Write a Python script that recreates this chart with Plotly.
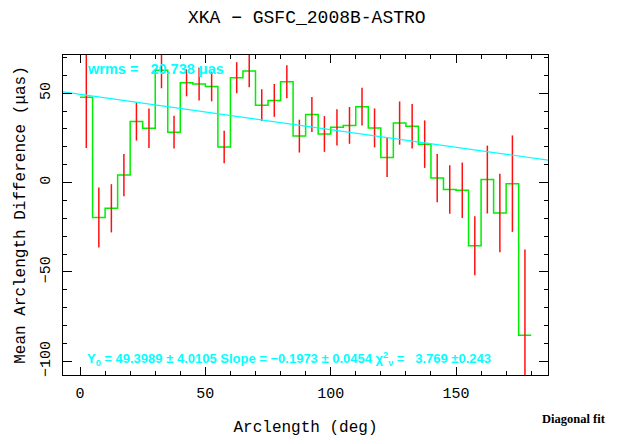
import numpy as np
import plotly.graph_objects as go

# ---- data ----
bin_centers = [2.5, 7.5, 12.5, 17.5, 22.5, 27.5, 32.5, 37.5, 42.5, 47.5, 52.5, 57.5,
               62.5, 67.5, 72.5, 77.5, 82.5, 87.5, 92.5, 97.5, 102.5, 107.5, 112.5, 117.5,
               122.5, 127.5, 132.5, 137.5, 142.5, 147.5, 152.5, 157.5, 162.5, 167.5, 172.5, 177.5]
mean_diff = [47.7, -19.5, -14.4, 4.2, 34.2, 30.4, 62.8, 28.2, 55.8, 55.2, 53.8, 19.9,
             58.7, 62.4, 43.3, 46.0, 56.4, 26.0, 38.1, 27.2, 30.9, 32.0, 42.5, 30.6,
             14.0, 33.3, 31.5, 21.5, 2.5, -3.9, -4.3, -35.4, 1.7, -17.0, -0.6, -85.5]
errors = [28.4, 16.8, 13.5, 11.8, 10.7, 11.0, 10.0, 9.2, 7.5, 9.2, 8.3, 9.1,
          8.7, 9.0, 8.9, 9.2, 9.2, 9.2, 9.8, 10.0, 10.1, 10.3, 10.6, 10.9,
          10.9, 12.1, 12.5, 13.3, 13.5, 13.6, 15.5, 16.5, 19.0, 22.0, 27.0, 48.0]
bin_width = 5.0
fit_y0 = 49.3989
fit_slope = -0.1973
x_range = [-6.8, 186.7]
y_range = [-107.7, 71.4]
x_tick_vals = [0, 50, 100, 150]
y_tick_vals = [-100, -50, 0, 50]

# step line edges
centers = np.array(bin_centers)
edges = list(centers - bin_width / 2) + [centers[-1] + bin_width / 2]
step_y = list(mean_diff) + [mean_diff[-1]]

fit_x = np.array(x_range)
fit_line = fit_y0 + fit_slope * fit_x

fig = go.Figure()
fig.add_trace(go.Scatter(x=edges, y=step_y, mode="lines",
                         line=dict(shape="hv", color="#00ee00", width=1.5),
                         hoverinfo="skip", showlegend=False))
fig.add_trace(go.Scatter(x=bin_centers, y=mean_diff, mode="markers",
                         marker=dict(size=0.1, color="rgba(0,0,0,0)"),
                         error_y=dict(type="data", array=errors, visible=True,
                                      color="#ff1010", thickness=1.5, width=0),
                         showlegend=False))
fig.add_trace(go.Scatter(x=list(fit_x), y=list(fit_line), mode="lines",
                         line=dict(color="#00ffff", width=1.2),
                         showlegend=False))

axis_font = dict(family="Liberation Mono", size=15, color="black")
common = dict(showgrid=False, zeroline=False, showline=True, linecolor="black",
              linewidth=1, mirror="allticks", ticks="inside", tickcolor="black",
              tickfont=axis_font)

fig.update_xaxes(range=x_range, tickvals=x_tick_vals, ticklen=8, tickwidth=1,
                 minor=dict(dtick=10, tick0=0, ticklen=4, ticks="inside", tickcolor="black"),
                 title=dict(text="Arclength (deg)",
                            font=dict(family="Liberation Mono", size=16, color="black"),
                            standoff=18),
                 ticklabelstandoff=4,
                 **common)
fig.update_yaxes(range=y_range, tickvals=y_tick_vals, ticklen=9, tickwidth=1,
                 tickangle=-90,
                 minor=dict(dtick=10, tick0=0, ticklen=4, ticks="inside", tickcolor="black"),
                 title=dict(text="Mean Arclength Difference (μas)",
                            font=dict(family="Liberation Mono", size=16, color="black"),
                            standoff=8),
                 ticklabelstandoff=6,
                 **common)

fig.update_layout(
    width=621, height=444,
    margin=dict(l=63, r=73, t=55, b=65),
    paper_bgcolor="white", plot_bgcolor="white",
    title=dict(text="XKA − GSFC_2008B-ASTRO", x=0.494, xanchor="center",
               y=1 - 17 / 444, yanchor="middle",
               font=dict(family="Liberation Mono", size=18, color="black")),
    annotations=[
        dict(text="<b>wrms =   20.738 μas</b>", x=1.8, y=63.5, xref="x", yref="y",
             xanchor="left", yanchor="middle", showarrow=False,
             font=dict(family="Liberation Sans", size=14.5, color="#00ffff")),
        dict(text="<b>Y<sub>0</sub> = 49.3989 ± 4.0105 Slope = −0.1973 ± 0.0454 χ<sup>2</sup><sub>ν</sub> =   3.769 ±0.243</b>",
             x=1.8, y=-98.5, xref="x", yref="y",
             xanchor="left", yanchor="middle", showarrow=False,
             font=dict(family="Liberation Sans", size=13, color="#00ffff")),
        dict(text="<b>Diagonal fit</b>", x=(540 - 63) / 485, y=-(424 - 379) / 324,
             xref="paper", yref="paper", xanchor="left", yanchor="middle",
             showarrow=False,
             font=dict(family="Liberation Serif", size=12.5, color="black")),
    ],
)

fig.write_html("out.html")
